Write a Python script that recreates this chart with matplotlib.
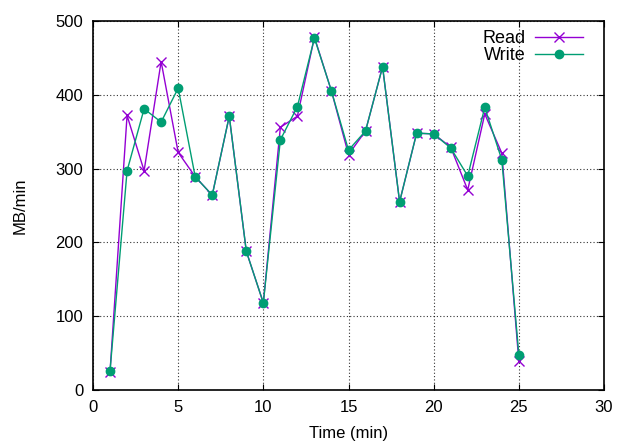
import matplotlib
matplotlib.use("Agg")
import matplotlib.pyplot as plt

time_min = list(range(1, 26))
read_vals = [25, 372, 297, 445, 322, 289, 264, 371, 188, 118, 356, 371, 478, 405,
             319, 351, 438, 255, 348, 347, 329, 271, 374, 321, 39]
write_vals = [26, 297, 381, 363, 409, 289, 264, 371, 188, 118, 339, 384, 477, 405,
              325, 351, 438, 255, 348, 347, 328, 290, 383, 312, 48]

x_ticks = [0, 5, 10, 15, 20, 25, 30]
y_ticks = [0, 100, 200, 300, 400, 500]

plt.rcParams['font.family'] = ['Liberation Sans', 'DejaVu Sans']

fig = plt.figure(figsize=(6.17, 4.42), dpi=100)
ax = fig.add_axes([93/617, 1-390/442, (604-93)/617, (390-21)/442])

ax.plot(time_min, read_vals, color='#9400D3', marker='x', markersize=6.5,
        markeredgewidth=1.0, linewidth=1.0, label='Read', zorder=3)
ax.plot(time_min, write_vals, color='#009E73', marker='o', markersize=6,
        linewidth=1.0, label='Write', zorder=4)

ax.set_xlim(0, 30)
ax.set_ylim(0, 500)
ax.set_xticks(x_ticks)
ax.set_yticks(y_ticks)
ax.tick_params(direction='in', length=4, width=0.8, top=True, right=True,
               labelsize=12, pad=7, colors='black')
ax.grid(True, linestyle=(0, (1, 2)), color='black', linewidth=0.8, alpha=0.8)
for s in ax.spines.values():
    s.set_linewidth(1.2)
ax.set_xlabel('Time (min)', fontsize=12, labelpad=8)
ax.set_ylabel('MB/min', fontsize=12, labelpad=20)

leg = ax.legend(loc='upper right', frameon=False, fontsize=13,
                markerfirst=False, handlelength=2.65, borderpad=0,
                borderaxespad=0, labelspacing=0.0, handletextpad=0.55,
                bbox_to_anchor=(583/617, 1-30/442), bbox_transform=fig.transFigure)
for t in leg.get_texts():
    t.set_horizontalalignment('right')

fig.savefig('out.png', dpi=100)
